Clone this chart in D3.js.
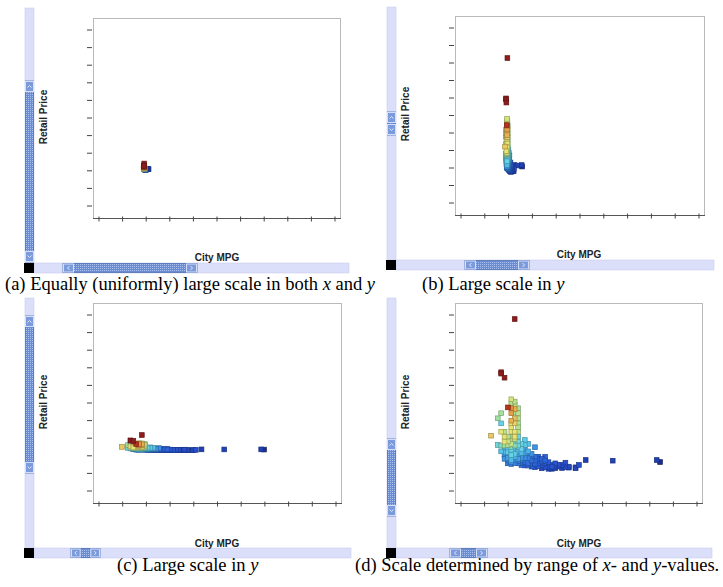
<!DOCTYPE html>
<html>
<head>
<meta charset="utf-8">
<script src="https://cdn.jsdelivr.net/npm/d3@7"></script>
<style>
  body { margin: 0; background: #fff; }
  svg text { font-family: "Liberation Sans", Arial, sans-serif; }
</style>
</head>
<body>
<svg id="fig" width="723" height="587"></svg>
<script>
// City fuel economy (MPG), retail price (thousands of dollars) and horsepower per car model
const mpg = [17,13,13,14,15,16,16,17,16,16,17,13,12,17,18,13,17,18,16,18,
  13,14,16,17,18,10,14,15,16,17,18,20,12,14,15,16,17,18,20,21,
  23,14,15,16,17,19,20,14,15,16,18,19,21,22,23,24,26,15,16,17,
  19,21,22,24,25,26,28,29,31,32,33,35,36,38,46,59,60,22,23,25,
  27,28,30,15,16,18,19,29,33,35,13,13,14,14,14,15,15,15,16,16,
  16,16,16,17,17,17,17,17,18,18,18,18,19,19,19,19,20,20,20,20,
  21,21,21,21,22,22,22,23,23,24,24,25,25,26,26,27,27,28,29,30,
  31,32,17,18,18,17,16,16];
const price = [192.5,128.4,126.7,121.8,86.0,95.8,91.0,89.0,85.0,79.0,79.6,79.0,72.9,72.9,72.9,66.8,66.8,66.8,62.0,62.0,
  56.7,56.7,56.7,56.7,56.7,51.9,50.7,50.7,50.7,50.7,50.7,46.7,40.7,44.7,40.7,42.0,44.7,44.7,40.7,42.0,
  38.0,35.0,36.0,35.0,35.0,36.0,35.0,28.6,28.6,28.6,28.6,28.6,28.6,26.6,26.6,26.6,26.6,22.6,22.6,23.0,
  22.2,22.6,24.6,23.4,21.0,18.6,16.6,18.6,16.6,19.4,14.6,13.8,16.6,22.6,21.8,22.6,20.2,14.6,14.0,12.6,
  14.0,14.6,14.6,18.6,17.8,18.6,16.6,12.6,13.4,12.6,40.0,33.0,40.0,32.0,24.0,45.0,32.0,25.0,46.0,38.0,
  31.0,25.0,20.0,48.0,40.0,30.0,26.0,19.0,40.0,33.0,24.0,21.0,42.0,31.0,25.0,19.0,31.0,25.0,20.0,16.0,
  33.0,25.0,19.0,16.0,30.0,22.0,18.0,22.0,18.0,19.0,15.0,24.0,16.0,14.0,22.0,20.0,12.0,12.0,15.0,17.0,
  13.0,14.0,93.0,85.0,79.0,84.0,70.0,66.8];
const horsepower = [477,493,493,493,430,290,270,265,350,340,260,255,250,320,265,215,310,260,300,265,
  300,270,300,300,265,316,300,270,225,300,220,210,220,300,260,280,215,220,210,205,
  175,195,210,215,200,215,180,165,185,215,180,175,160,150,150,140,140,165,200,170,
  160,150,150,140,140,130,120,125,120,120,115,110,120,100,105,100,73,140,125,120,
  120,125,120,155,165,160,150,115,110,110,230,205,250,200,175,280,210,185,260,225,
  210,195,175,280,235,210,195,165,220,200,185,160,215,200,175,150,185,170,150,140,
  195,165,150,140,175,150,140,145,140,135,130,140,125,120,140,130,115,110,120,120,
  110,115,270,260,270,330,330,300];

// Unlabelled tick steps drawn along each axis
const tickSteps = d3.range(11);

// Horsepower colour ramp (blue → cyan → yellow → red)
const hpStops = [73, 105, 130, 160, 190, 215, 240, 265, 300, 340, 400, 470];
const hpColors = ["#1b2e8e","#2242b8","#2a58d6","#347ce2","#48aaea","#64d4ea",
                  "#94e0b0","#b2e290","#e6e474","#e8a048","#d0441e","#8e1c1c"];
const color = d3.scaleLinear().domain(hpStops).range(hpColors).clamp(true);

// Four views of the same data, each with its own visible window
const panels = [
  { frame: [93, 18, 340, 218], viewX: [-495, 1975], viewY: [-1459, 4601.5],
    vbar: { x: 25, y0: 8, y1: 263, t0: 81, t1: 262 },
    hbar: { y: 263, x0: 24, x1: 349, t0: 63, t1: 197 },
    xLab: [217, 261], yLab: [43, 117],
    caption: [["(a) Equally (uniformly) large scale in both ", false], ["x", true], [" and ", false], ["y", true]],
    capX: 5, capY: 290 },
  { frame: [455, 16, 704, 215], viewX: [-137, 595], viewY: [-56.7, 259.2],
    vbar: { x: 387, y0: 7, y1: 260, t0: 112, t1: 135 },
    hbar: { y: 260, x0: 386, x1: 714, t0: 465, t1: 529 },
    xLab: [579, 258], yLab: [405, 114],
    caption: [["(b) Large scale in ", false], ["y", true]],
    capX: 422, capY: 290 },
  { frame: [93, 303, 341, 503], viewX: [-0.2, 87.1], viewY: [-612, 1754.7],
    vbar: { x: 25, y0: 298, y1: 548, t0: 316, t1: 473 },
    hbar: { y: 548, x0: 24, x1: 351, t0: 71, t1: 100 },
    xLab: [217, 547], yLab: [43, 402],
    caption: [["(c) Large scale in ", false], ["y", true]],
    capX: 117, capY: 571 },
  { frame: [455, 303, 702, 503], viewX: [-0.65, 72.4], viewY: [-29.2, 211.8],
    vbar: { x: 387, y0: 298, y1: 548, t0: 439, t1: 516 },
    hbar: { y: 548, x0: 386, x1: 712, t0: 450, t1: 487 },
    xLab: [579, 547], yLab: [405, 402],
    caption: [["(d) Scale determined by range of ", false], ["x", true], ["- and ", false], ["y", true], ["-values.", false]],
    capX: 355, capY: 571 }
];

const svg = d3.select("#fig");
const defs = svg.append("defs");
const pat = defs.append("pattern").attr("id", "dots")
  .attr("width", 2).attr("height", 2).attr("patternUnits", "userSpaceOnUse");
pat.append("rect").attr("width", 2).attr("height", 2).attr("fill", "#6a8cd3");
pat.append("rect").attr("width", 1).attr("height", 1).attr("fill", "#a9c0ef");

const order = d3.range(mpg.length).sort((a, b) => horsepower[a] - horsepower[b]);
const SQ = 4.7;
const BW = 9; // scrollbar thickness

function button(g, x, y, w, h, dir) {
  g.append("rect").attr("x", x + 0.5).attr("y", y + 0.5).attr("width", w - 1).attr("height", h - 1)
    .attr("fill", "#7c9bdc").attr("stroke", "#d4def6").attr("stroke-width", 1);
  const cx = x + w / 2, cy = y + h / 2;
  let d;
  if (dir === "up") d = `M${cx - 2},${cy + 1}L${cx},${cy - 1}L${cx + 2},${cy + 1}`;
  if (dir === "down") d = `M${cx - 2},${cy - 1}L${cx},${cy + 1}L${cx + 2},${cy - 1}`;
  if (dir === "left") d = `M${cx + 1},${cy - 2}L${cx - 1},${cy}L${cx + 1},${cy + 2}`;
  if (dir === "right") d = `M${cx - 1},${cy - 2}L${cx + 1},${cy}L${cx - 1},${cy + 2}`;
  g.append("path").attr("d", d).attr("fill", "none").attr("stroke", "#e8eefc").attr("stroke-width", 0.9);
}

panels.forEach((p, k) => {
  const [fl, ft, fr, fb] = p.frame;
  const g = svg.append("g");

  // vertical scrollbar
  const vb = p.vbar;
  g.append("rect").attr("x", vb.x).attr("y", vb.y0).attr("width", BW).attr("height", vb.y1 - vb.y0)
    .attr("fill", "#dcdff9").attr("stroke", "#c8ccee").attr("stroke-width", 0.6);
  g.append("rect").attr("x", vb.x + 0.5).attr("y", vb.t0).attr("width", BW - 1).attr("height", vb.t1 - vb.t0)
    .attr("fill", "url(#dots)").attr("stroke", "#4e6fb4").attr("stroke-width", 0.8);
  const vbh = Math.min(11, (vb.t1 - vb.t0) / 2);
  button(g, vb.x, vb.t0, BW, vbh, "up");
  button(g, vb.x, vb.t1 - vbh, BW, vbh, "down");

  // horizontal scrollbar with black corner
  const hb = p.hbar;
  g.append("rect").attr("x", hb.x0 + 10).attr("y", hb.y).attr("width", hb.x1 - hb.x0 - 10).attr("height", BW + 1)
    .attr("fill", "#dcdff9").attr("stroke", "#c8ccee").attr("stroke-width", 0.6);
  g.append("rect").attr("x", hb.x0).attr("y", hb.y).attr("width", 10).attr("height", BW + 1).attr("fill", "#000");
  g.append("rect").attr("x", hb.t0).attr("y", hb.y + 0.5).attr("width", hb.t1 - hb.t0).attr("height", BW)
    .attr("fill", "url(#dots)").attr("stroke", "#4e6fb4").attr("stroke-width", 0.8);
  const hbw = Math.min(11, (hb.t1 - hb.t0) / 3);
  button(g, hb.t0, hb.y + 0.5, hbw, BW, "left");
  button(g, hb.t1 - hbw, hb.y + 0.5, hbw, BW, "right");

  // plot frame
  g.append("rect").attr("x", fl + 0.5).attr("y", ft + 0.5).attr("width", fr - fl).attr("height", fb - ft)
    .attr("fill", "#fff").attr("stroke", "#b9b9b9").attr("stroke-width", 1);
  g.append("line").attr("x1", fl).attr("x2", fr + 1).attr("y1", fb + 0.5).attr("y2", fb + 0.5)
    .attr("stroke", "#555").attr("stroke-width", 1);

  // tick marks
  const tx = d3.scaleLinear().domain([0, 10]).range([fl + 5, fr - 6]);
  const ty = d3.scaleLinear().domain([0, 10]).range([fb - 13, ft + 11]);
  const ax = g.append("g").attr("transform", `translate(0.5,${fb + 0.5})`)
    .call(d3.axisBottom(tx).tickValues(tickSteps).tickSize(3).tickFormat(""));
  ax.select(".domain").remove();
  ax.selectAll(".tick line").attr("y1", -2).attr("stroke", "#444");
  const ay = g.append("g").attr("transform", `translate(${fl - 1},0.5)`)
    .call(d3.axisLeft(ty).tickValues(tickSteps).tickSize(5).tickFormat(""));
  ay.select(".domain").remove();
  ay.selectAll(".tick line").attr("stroke", "#444");

  // data scales for this view
  const x = d3.scaleLinear().domain(p.viewX).range([fl, fr]);
  const y = d3.scaleLinear().domain(p.viewY).range([fb, ft]);
  const clipId = "clip" + k;
  defs.append("clipPath").attr("id", clipId).append("rect")
    .attr("x", fl + 1).attr("y", ft + 1).attr("width", fr - fl - 1).attr("height", fb - ft - 1);
  g.append("g").attr("clip-path", `url(#${clipId})`)
    .selectAll("rect").data(order).join("rect")
    .attr("x", i => x(mpg[i]) - SQ / 2)
    .attr("y", i => y(price[i]) - SQ / 2)
    .attr("width", SQ).attr("height", SQ)
    .attr("fill", i => color(horsepower[i]))
    .attr("stroke", i => d3.color(color(horsepower[i])).darker(1.0))
    .attr("stroke-width", 0.7);

  // axis titles
  g.append("text").attr("x", p.xLab[0]).attr("y", p.xLab[1]).attr("text-anchor", "middle")
    .attr("font-size", 10).attr("font-weight", "bold").attr("fill", "#222").text("City MPG");
  g.append("text").attr("transform", `translate(${p.yLab[0]},${p.yLab[1]}) rotate(-90)`)
    .attr("text-anchor", "middle").attr("dy", "0.35em")
    .attr("font-size", 10).attr("font-weight", "bold").attr("fill", "#222").text("Retail Price");

  // caption
  const cap = g.append("text").attr("x", p.capX).attr("y", p.capY)
    .style("font-family", "'Liberation Serif', 'Times New Roman', serif")
    .attr("font-size", 18.5).attr("fill", "#000");
  p.caption.forEach(([t, it]) => cap.append("tspan").attr("font-style", it ? "italic" : "normal").text(t));
});
</script>
</body>
</html>
